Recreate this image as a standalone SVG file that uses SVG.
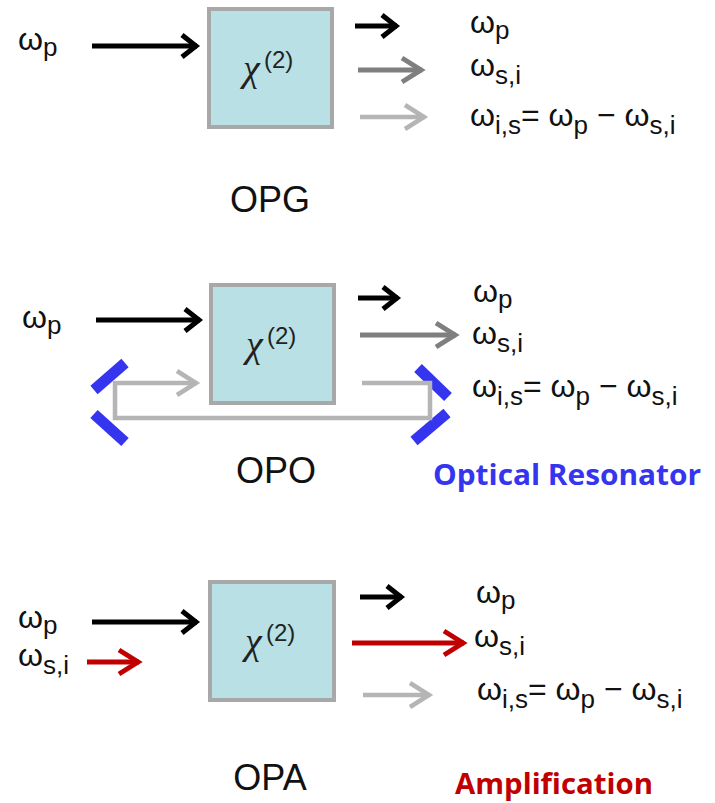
<svg xmlns="http://www.w3.org/2000/svg" width="715" height="803" viewBox="0 0 715 803">
<style>
.box{fill:#b9e0e4;stroke:#a8a8a8;stroke-width:4}
.chi{font-family:"Liberation Serif",serif;font-style:italic;font-size:38px;fill:#222}
.sup{font-family:"Liberation Sans",sans-serif;font-size:24px;fill:#222}
.lab{font-family:"Liberation Sans",sans-serif;font-size:32px;fill:#111}
.sub{font-size:26px}
.title{font-family:"Liberation Sans",sans-serif;font-size:36px;fill:#111;text-anchor:middle}
.note{font-family:"Open Sans","Noto Sans",sans-serif;font-weight:bold;font-size:28px}
.k{stroke:#000;stroke-width:5;fill:none}
.g{stroke:#7f7f7f;stroke-width:5;fill:none}
.l{stroke:#b5b5b5;stroke-width:4.5;fill:none}
.r{stroke:#c00000;stroke-width:5;fill:none}
.mir{stroke:#3535f0;stroke-width:11;fill:none}
</style>
<defs>
<marker id="hk" markerUnits="userSpaceOnUse" markerWidth="30" markerHeight="30" refX="0" refY="0" viewBox="-20 -15 24 30" orient="auto" overflow="visible"><path d="M-15,-11 L-1,0 L-15,11" fill="none" stroke="#000" stroke-width="5" stroke-linejoin="miter"/></marker>
<marker id="hg" markerUnits="userSpaceOnUse" markerWidth="30" markerHeight="30" refX="0" refY="0" viewBox="-24 -15 28 30" orient="auto" overflow="visible"><path d="M-20,-12 L-1,0 L-20,12" fill="none" stroke="#7f7f7f" stroke-width="5"/></marker>
<marker id="hl" markerUnits="userSpaceOnUse" markerWidth="30" markerHeight="30" refX="0" refY="0" viewBox="-24 -15 28 30" orient="auto" overflow="visible"><path d="M-20,-12 L-1,0 L-20,12" fill="none" stroke="#b5b5b5" stroke-width="4.5"/></marker>
<marker id="hr" markerUnits="userSpaceOnUse" markerWidth="30" markerHeight="30" refX="0" refY="0" viewBox="-24 -15 28 30" orient="auto" overflow="visible"><path d="M-20,-12 L-1,0 L-20,12" fill="none" stroke="#c00000" stroke-width="5"/></marker>
</defs>

<!-- Panel 1: OPG -->
<g id="opg-box">
<rect class="box" x="209" y="9" width="123" height="118"/>
<text class="chi" x="243" y="81">χ</text><text class="sup" x="264" y="68">(2)</text>
</g>
<g id="opg-labels">
<text class="lab" x="18" y="50">ω<tspan class="sub" dy="6">p</tspan></text>
<text class="lab" x="470" y="33">ω<tspan class="sub" dy="6">p</tspan></text>
<text class="lab" x="470" y="76">ω<tspan class="sub" dy="8">s,i</tspan></text>
<text class="lab" x="470" y="126">ω<tspan class="sub" dy="8">i,s</tspan><tspan dy="-8">= ω</tspan><tspan class="sub" dy="8">p</tspan><tspan dy="-8"> − ω</tspan><tspan class="sub" dy="8">s,i</tspan></text>
<text class="title" x="270" y="212">OPG</text>
</g>

<!-- Panel 2: OPO -->
<g id="opo-box">
<rect class="box" x="211" y="285" width="123" height="118"/>
<text class="chi" x="246" y="357">χ</text><text class="sup" x="267" y="344">(2)</text>
</g>
<g id="opo-mirrors">
<line class="mir" x1="94" y1="390" x2="125" y2="363"/>
<line class="mir" x1="94" y1="414" x2="125" y2="442"/>
<line class="mir" x1="418" y1="368" x2="448" y2="397"/>
<line class="mir" x1="447" y1="413" x2="414" y2="441"/>
</g>
<g id="opo-labels">
<text class="lab" x="22" y="328">ω<tspan class="sub" dy="6">p</tspan></text>
<text class="lab" x="473" y="302">ω<tspan class="sub" dy="6">p</tspan></text>
<text class="lab" x="472" y="344">ω<tspan class="sub" dy="8">s,i</tspan></text>
<text class="lab" x="472" y="397">ω<tspan class="sub" dy="8">i,s</tspan><tspan dy="-8">= ω</tspan><tspan class="sub" dy="8">p</tspan><tspan dy="-8"> − ω</tspan><tspan class="sub" dy="8">s,i</tspan></text>
<text class="title" x="276" y="483">OPO</text>
<text class="note" x="433" y="485" fill="#3535f0" textLength="268" lengthAdjust="spacingAndGlyphs">Optical Resonator</text>
</g>

<!-- Panel 3: OPA -->
<g id="opa-box">
<rect class="box" x="210" y="582" width="124" height="118"/>
<text class="chi" x="245" y="654">χ</text><text class="sup" x="266" y="641">(2)</text>
</g>
<g id="opa-labels">
<text class="lab" x="18" y="628">ω<tspan class="sub" dy="6">p</tspan></text>
<text class="lab" x="18" y="666">ω<tspan class="sub" dy="8">s,i</tspan></text>
<text class="lab" x="476" y="603">ω<tspan class="sub" dy="6">p</tspan></text>
<text class="lab" x="474" y="647">ω<tspan class="sub" dy="8">s,i</tspan></text>
<text class="lab" x="477" y="700">ω<tspan class="sub" dy="8">i,s</tspan><tspan dy="-8">= ω</tspan><tspan class="sub" dy="8">p</tspan><tspan dy="-8"> − ω</tspan><tspan class="sub" dy="8">s,i</tspan></text>
<text class="title" x="270" y="790">OPA</text>
<text class="note" x="455" y="794" fill="#c00000" textLength="198" lengthAdjust="spacingAndGlyphs">Amplification</text>
</g>

<g id="connectors">
<!-- OPG -->
<line class="k" x1="92" y1="46" x2="197" y2="46" marker-end="url(#hk)"/>
<line class="k" x1="355" y1="26" x2="397" y2="26" marker-end="url(#hk)"/>
<line class="g" x1="358" y1="70" x2="422" y2="70" marker-end="url(#hg)"/>
<line class="l" x1="360" y1="117" x2="425" y2="117" marker-end="url(#hl)"/>
<!-- OPO -->
<line class="k" x1="96" y1="320" x2="200" y2="320" marker-end="url(#hk)"/>
<line class="k" x1="358" y1="298" x2="398" y2="298" marker-end="url(#hk)"/>
<line class="g" x1="360" y1="335" x2="456" y2="335" marker-end="url(#hg)"/>
<line class="l" x1="115" y1="383" x2="197" y2="383" marker-end="url(#hl)"/>
<polyline class="l" points="115,381 115,418 430,418 430,383 362,383"/>
<!-- OPA -->
<line class="k" x1="92" y1="622" x2="197" y2="622" marker-end="url(#hk)"/>
<line class="r" x1="87" y1="662" x2="139" y2="662" marker-end="url(#hr)"/>
<line class="k" x1="360" y1="597" x2="402" y2="597" marker-end="url(#hk)"/>
<line class="r" x1="352" y1="643" x2="464" y2="643" marker-end="url(#hr)"/>
<line class="l" x1="363" y1="695" x2="430" y2="695" marker-end="url(#hl)"/>
</g>
</svg>
